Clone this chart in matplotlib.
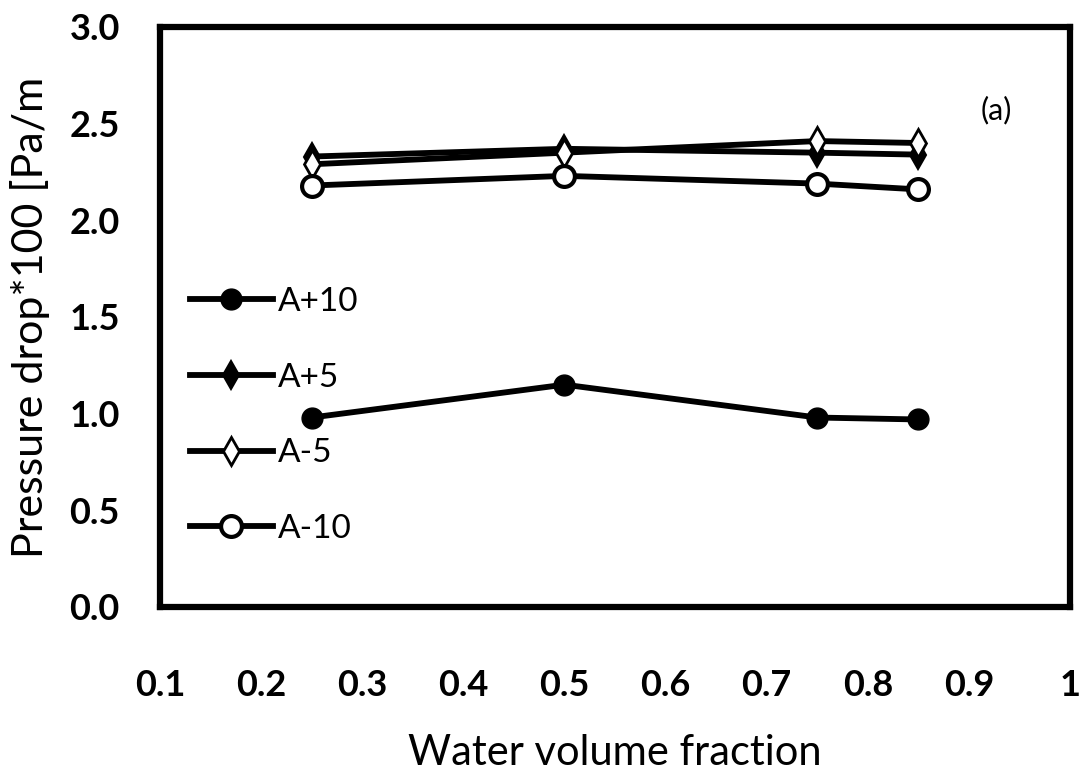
import matplotlib
matplotlib.use("Agg")
import matplotlib.pyplot as plt

plt.rcParams['font.family'] = ['Lato', 'DejaVu Sans']

# Water volume fraction and pressure drop (x100, Pa/m) for each case
water_fraction = [0.25, 0.5, 0.75, 0.85]
a_plus10 = [0.98, 1.15, 0.98, 0.97]
a_plus5 = [2.33, 2.37, 2.35, 2.34]
a_minus5 = [2.29, 2.35, 2.41, 2.40]
a_minus10 = [2.18, 2.23, 2.19, 2.16]

series_labels = ['A+10', 'A+5', 'A-5', 'A-10']
x_ticks = [0.1, 0.2, 0.3, 0.4, 0.5, 0.6, 0.7, 0.8, 0.9, 1.0]
x_tick_labels = ['0.1', '0.2', '0.3', '0.4', '0.5', '0.6', '0.7', '0.8', '0.9', '1']
y_ticks = [0.0, 0.5, 1.0, 1.5, 2.0, 2.5, 3.0]
y_tick_labels = ['0.0', '0.5', '1.0', '1.5', '2.0', '2.5', '3.0']

fig = plt.figure(figsize=(10.85, 7.78), dpi=100)
ax = fig.add_axes([160 / 1085, 1 - 607 / 778, (1070 - 160) / 1085, (607 - 27) / 778])

lw = 4.2
ax.plot(water_fraction, a_plus10, color='black', lw=lw, marker='o', ms=15,
        mfc='black', mec='black', label=series_labels[0])
ax.plot(water_fraction, a_plus5, color='black', lw=lw, marker='d', ms=14,
        mfc='black', mec='black', mew=1.5, label=series_labels[1])
ax.plot(water_fraction, a_minus5, color='black', lw=lw, marker='d', ms=14,
        mfc='white', mec='black', mew=2, label=series_labels[2])
ax.plot(water_fraction, a_minus10, color='black', lw=lw, marker='o', ms=15,
        mfc='white', mec='black', mew=3, label=series_labels[3])

ax.set_xlim(0.1, 1.0)
ax.set_ylim(0.0, 3.0)
ax.set_xticks(x_ticks)
ax.set_xticklabels(x_tick_labels)
ax.set_yticks(y_ticks)
ax.set_yticklabels(y_tick_labels)
ax.tick_params(axis='both', length=0, labelsize=26)
ax.tick_params(axis='x', pad=45)
ax.tick_params(axis='y', pad=29)
for lab in ax.get_xticklabels() + ax.get_yticklabels():
    lab.set_fontweight('bold')

for side in ['left', 'right', 'top', 'bottom']:
    ax.spines[side].set_linewidth(4.5)
    ax.spines[side].set_color('black')

ax.set_xlabel('Water volume fraction', fontsize=30, va='center')
ax.xaxis.set_label_coords(0.5, (607 - 753) / 580)
ax.set_ylabel('Pressure drop*100 [Pa/m', fontsize=31, va='center')
ax.yaxis.set_label_coords((30 - 160) / 910, (607 - 317) / 580)

ax.text((996 - 160) / 910, (607 - 110) / 580, '(a)', transform=ax.transAxes,
        fontsize=22, ha='center', va='center')

leg = ax.legend(loc='upper left', bbox_to_anchor=(0.018, 0.575), frameon=False,
                fontsize=24, handlelength=2.5, handletextpad=0.15,
                labelspacing=1.37, borderaxespad=0)

fig.savefig('out.png', dpi=100)
